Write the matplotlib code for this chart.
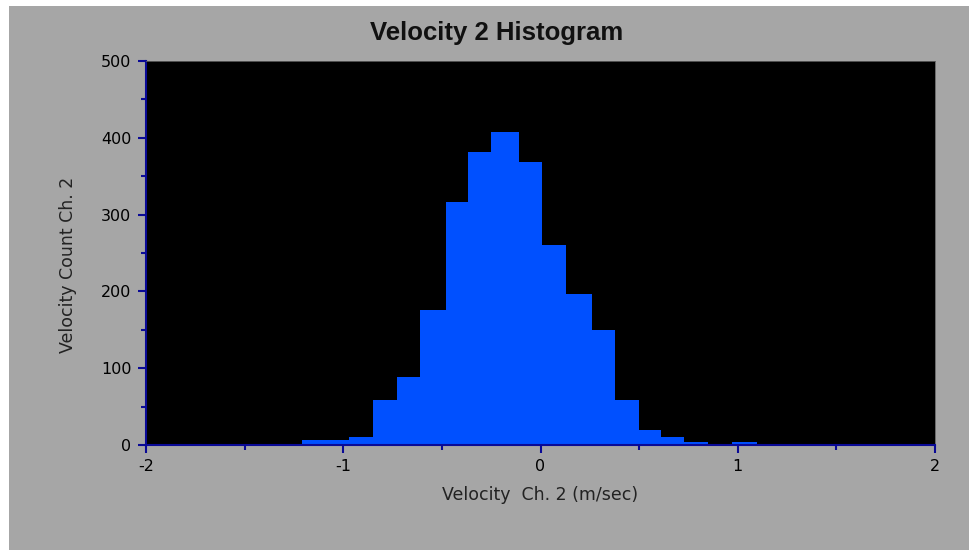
import matplotlib
matplotlib.use("Agg")
import matplotlib.pyplot as plt  # noqa
from matplotlib.patches import Rectangle
from matplotlib.ticker import MultipleLocator

# Histogram: bin edges (m/sec) and counts per bin
bin_edges = [-1.21, -1.09, -0.97, -0.85, -0.73, -0.61, -0.48, -0.37, -0.25,
             -0.11, 0.01, 0.13, 0.26, 0.38, 0.50, 0.61, 0.73, 0.85, 0.97,
             1.10]
counts = [6, 6, 11, 58, 88, 176, 317, 382, 408, 369, 260, 197, 150, 58, 19,
          11, 4, 0, 4]
x_ticks = [-2, -1, 0, 1, 2]
y_ticks = [0, 100, 200, 300, 400, 500]

gray = "#a6a6a6"
axis_blue = "#0a0a96"
bar_blue = "#0050ff"

plt.rcParams["font.family"] = ["DejaVu Sans"]

W, H = 969, 550
fig = plt.figure(figsize=(W / 100, H / 100), dpi=100)
fig.patch.set_facecolor("white")
# gray panel (thin white margin at top and left)
fig.add_artist(Rectangle((9 / W, -0.05), 1.0, (H - 6) / H + 0.05,
                         transform=fig.transFigure, facecolor=gray,
                         linewidth=0, zorder=-10))

ax = fig.add_axes([146 / W, (H - 445) / H, (935 - 146) / W, (445 - 61) / H])
ax.set_facecolor("black")
ax.stairs(counts, bin_edges, fill=True, color=bar_blue, linewidth=0)

ax.set_xlim(-2, 2)
ax.set_ylim(0, 500)
ax.set_xticks(x_ticks)
ax.set_xticklabels([str(t) for t in x_ticks])
ax.set_yticks(y_ticks)
ax.xaxis.set_minor_locator(MultipleLocator(0.5))
ax.yaxis.set_minor_locator(MultipleLocator(50))

for side in ["left", "bottom"]:
    ax.spines[side].set_color(axis_blue)
    ax.spines[side].set_linewidth(1.5)
for side in ["top", "right"]:
    ax.spines[side].set_color("#606060")
    ax.spines[side].set_linewidth(0.6)

ax.tick_params(which="major", direction="out", length=6, width=1.5,
               color=axis_blue, labelsize=11.5)
ax.tick_params(axis="y", which="major", pad=4.5)
ax.tick_params(axis="x", which="major", pad=4)
ax.tick_params(which="minor", direction="out", length=3.5, width=1.5,
               color=axis_blue)

fig.text(497 / W, 1 - 40 / H, "Velocity 2 Histogram", fontsize=18.5,
         fontweight="bold", ha="center", va="baseline",
         family=["Liberation Sans", "DejaVu Sans"], color="#111111")
ax.set_xlabel("Velocity  Ch. 2 (m/sec)", fontsize=12.5, color="#222222")
ax.xaxis.set_label_coords(0.5, -0.108)
ax.set_ylabel("Velocity Count Ch. 2", fontsize=12.5, color="#222222")
ax.yaxis.set_label_coords(-0.0875, 0.469)

fig.savefig("out.png", dpi=100, facecolor=fig.get_facecolor())
